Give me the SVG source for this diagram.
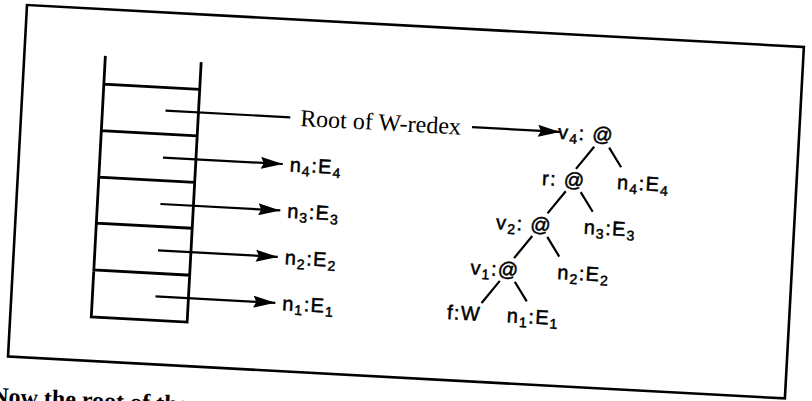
<svg xmlns="http://www.w3.org/2000/svg" width="812" height="401" viewBox="0 0 812 401">
<style>
.frame{fill:none;stroke:#000;stroke-width:2.6}
.stk{fill:none;stroke:#000;stroke-width:2.8;stroke-linecap:square}
.conn{fill:none;stroke:#000;stroke-width:2.2}
.lbl{font-family:"Liberation Sans",Arial,sans-serif;font-size:20px;letter-spacing:1.3px;fill:#000;stroke:#000;stroke-width:0.5}
.sub{font-size:14px}
.serif{font-family:"Liberation Serif","Times New Roman",serif;font-size:24px;fill:#000}
.mid{text-anchor:middle}
.end{text-anchor:end}
</style>
<defs>
<marker id="ah" markerUnits="userSpaceOnUse" viewBox="0 0 22 12" refX="22" refY="6" markerWidth="22" markerHeight="12" orient="auto">
<path d="M0,0 L22,6 L0,12 L3,6 z" fill="#000"/>
</marker>
</defs>
<rect width="812" height="401" fill="#fff"/>
<g transform="rotate(3.09 27 5)">
<rect class="frame" x="27" y="5" width="778" height="352"/>
<g id="stack">
<path class="stk" d="M108,53 V313 H204 V54 M108,80 H204 M108,126.5 H204 M108,173 H204 M108,219 H204 M108,266 H204"/>
</g>
<g id="connectors">
<line class="conn" x1="171" y1="103" x2="296" y2="103"/>
<line class="conn" x1="171" y1="150" x2="291" y2="150" marker-end="url(#ah)"/>
<line class="conn" x1="171" y1="196.5" x2="291" y2="196.5" marker-end="url(#ah)"/>
<line class="conn" x1="171" y1="243" x2="291" y2="243" marker-end="url(#ah)"/>
<line class="conn" x1="171" y1="289" x2="291" y2="289" marker-end="url(#ah)"/>
<line class="conn" x1="478" y1="103" x2="566" y2="103" marker-end="url(#ah)"/>
<path class="conn" d="M601,116 L584,139 M616,116 L629,135"/>
<path class="conn" d="M575,162 L558,185 M590,162 L603,181"/>
<path class="conn" d="M544,208.5 L527,231.5 M559,208.5 L572,227.5"/>
<path class="conn" d="M514,255 L497,278 M529,255 L542,274"/>
</g>
<g id="root-label"><text class="serif" x="306" y="111">Root of W-redex</text></g>
<g id="stk-n4"><text class="lbl" x="298" y="157">n<tspan class="sub" dy="4">4</tspan><tspan dy="-4">:E</tspan><tspan class="sub" dy="4">4</tspan></text></g>
<g id="stk-n3"><text class="lbl" x="298" y="203.5">n<tspan class="sub" dy="4">3</tspan><tspan dy="-4">:E</tspan><tspan class="sub" dy="4">3</tspan></text></g>
<g id="stk-n2"><text class="lbl" x="298" y="250">n<tspan class="sub" dy="4">2</tspan><tspan dy="-4">:E</tspan><tspan class="sub" dy="4">2</tspan></text></g>
<g id="stk-n1"><text class="lbl" x="298" y="296">n<tspan class="sub" dy="4">1</tspan><tspan dy="-4">:E</tspan><tspan class="sub" dy="4">1</tspan></text></g>
<g id="node-v4"><text class="lbl end" x="620" y="110">v<tspan class="sub" dy="4">4</tspan><tspan dy="-4">: @</tspan></text></g>
<g id="node-r"><text class="lbl end" x="594" y="157">r: @</text></g>
<g id="node-n4"><text class="lbl mid" x="652" y="157">n<tspan class="sub" dy="4">4</tspan><tspan dy="-4">:E</tspan><tspan class="sub" dy="4">4</tspan></text></g>
<g id="node-v2"><text class="lbl end" x="563" y="203.5">v<tspan class="sub" dy="4">2</tspan><tspan dy="-4">: @</tspan></text></g>
<g id="node-n3"><text class="lbl mid" x="621" y="203.5">n<tspan class="sub" dy="4">3</tspan><tspan dy="-4">:E</tspan><tspan class="sub" dy="4">3</tspan></text></g>
<g id="node-v1"><text class="lbl end" x="533" y="250">v<tspan class="sub" dy="4">1</tspan><tspan dy="-4">:@</tspan></text></g>
<g id="node-n2"><text class="lbl mid" x="597" y="250">n<tspan class="sub" dy="4">2</tspan><tspan dy="-4">:E</tspan><tspan class="sub" dy="4">2</tspan></text></g>
<g id="node-f"><text class="lbl mid" x="480" y="296">f:W</text></g>
<g id="node-n1"><text class="lbl mid" x="549" y="296">n<tspan class="sub" dy="4">1</tspan><tspan dy="-4">:E</tspan><tspan class="sub" dy="4">1</tspan></text></g>
</g>
<text transform="rotate(2.5 0 404)" x="-9" y="404" style="font-family:'Liberation Serif','Times New Roman',serif;font-size:24px;font-weight:bold;fill:#000">Now the root of the</text>
</svg>
